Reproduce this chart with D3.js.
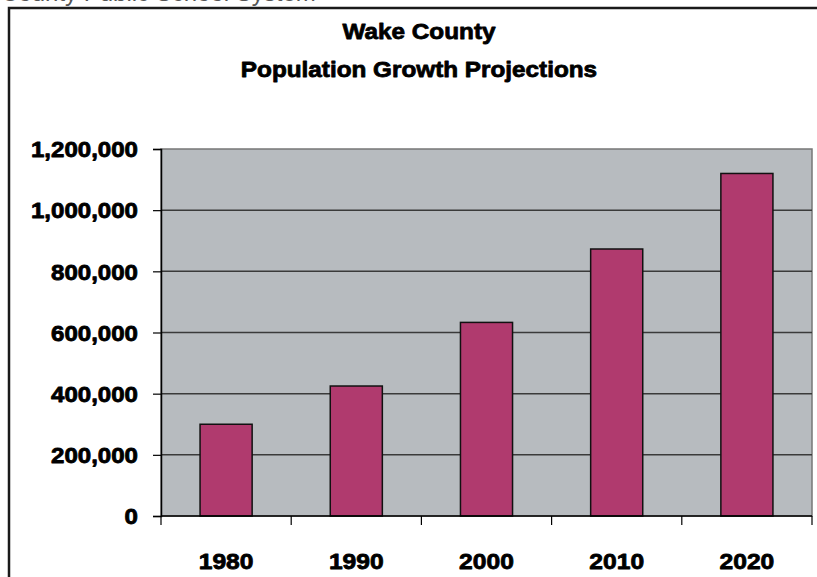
<!DOCTYPE html>
<html>
<head>
<meta charset="utf-8">
<script src="https://cdn.jsdelivr.net/npm/d3@7"></script>
<style>
  html, body { margin: 0; padding: 0; background: #fff; }
  svg { display: block; }
  text { font-family: "Liberation Sans", Arial, sans-serif; }
</style>
</head>
<body>
<svg id="chart" width="817" height="577"></svg>
<script>
// Wake County population: census counts and projections
const years = ["1980", "1990", "2000", "2010", "2020"];
const population = [300000, 425000, 633000, 873000, 1120000];
const yTicks = [0, 200000, 400000, 600000, 800000, 1000000, 1200000];
const titleLines = ["Wake County", "Population Growth Projections"];
const headerText = "County Public School System";

const svg = d3.select("#chart");
const W = 817, H = 577;

const plot = { left: 161, right: 812, top: 149, bottom: 516 };

// Header text running off the top edge
svg.append("text")
  .attr("x", 1).attr("y", 1)
  .attr("font-size", 24)
  .attr("fill", "#555")
  .text(headerText);

// Outer frame, extending beyond the right and bottom edges
svg.append("rect")
  .attr("x", 9).attr("y", 8)
  .attr("width", W + 20).attr("height", H + 20)
  .attr("fill", "#fff")
  .attr("stroke", "#1a1a1a")
  .attr("stroke-width", 2.5);

const x = d3.scaleBand()
  .domain(years)
  .range([plot.left, plot.right])
  .paddingInner(0.6)
  .paddingOuter(0.3);

const y = d3.scaleLinear()
  .domain([0, 1200000])
  .range([plot.bottom, plot.top]);

// Plot area background
svg.append("rect")
  .attr("x", plot.left).attr("y", plot.top)
  .attr("width", plot.right - plot.left)
  .attr("height", plot.bottom - plot.top)
  .attr("fill", "#b7bbbf")
  .attr("stroke", "#777")
  .attr("stroke-width", 1.5);

// Horizontal gridlines
svg.append("g")
  .selectAll("line")
  .data(yTicks.filter(d => d > 0 && d < 1200000))
  .join("line")
  .attr("x1", plot.left).attr("x2", plot.right)
  .attr("y1", d => y(d)).attr("y2", d => y(d))
  .attr("stroke", "#3a3a3a")
  .attr("stroke-width", 1.5);

// Bars
svg.append("g")
  .selectAll("rect")
  .data(years.map((yr, i) => ({ yr, v: population[i] })))
  .join("rect")
  .attr("x", d => x(d.yr))
  .attr("width", x.bandwidth())
  .attr("y", d => y(d.v))
  .attr("height", d => y(0) - y(d.v))
  .attr("fill", "#b03a6e")
  .attr("stroke", "#111")
  .attr("stroke-width", 1.5);

// Heavy label style shared by axes and title
function heavy(sel, size) {
  sel.attr("font-size", size)
    .attr("font-weight", "bold")
    .attr("fill", "#000")
    .attr("stroke", "#000")
    .attr("stroke-width", 0.8)
    .attr("stroke-linejoin", "round");
}

// Y axis
const fmt = d3.format(",");
const yAxis = svg.append("g")
  .attr("transform", `translate(${plot.left},0)`)
  .call(d3.axisLeft(y).tickValues(yTicks).tickSize(8).tickPadding(0).tickFormat(fmt));
yAxis.select(".domain").attr("stroke", "#000").attr("stroke-width", 1.5);
yAxis.selectAll(".tick line").attr("stroke", "#000").attr("stroke-width", 1.2);
yAxis.selectAll(".tick text").remove();
yAxis.selectAll(".tick").append("text")
  .attr("transform", "translate(-23,0) scale(1.12,1)")
  .attr("text-anchor", "end")
  .attr("dy", "0.36em")
  .call(heavy, 21.5)
  .text(d => fmt(d));

// X axis: ticks at category boundaries
const xAxis = svg.append("g")
  .attr("transform", `translate(0,${plot.bottom})`);
xAxis.append("line")
  .attr("x1", plot.left).attr("x2", plot.right)
  .attr("stroke", "#000").attr("stroke-width", 1.5);
const boundaries = d3.range(years.length + 1).map(i => plot.left + i * (plot.right - plot.left) / years.length);
xAxis.selectAll("line.tk")
  .data(boundaries)
  .join("line")
  .attr("class", "tk")
  .attr("x1", d => d).attr("x2", d => d)
  .attr("y1", 0).attr("y2", 9)
  .attr("stroke", "#000").attr("stroke-width", 1.2);
xAxis.selectAll("text")
  .data(years)
  .join("text")
  .attr("transform", d => `translate(${x(d) + x.bandwidth() / 2},53) scale(1.12,1)`)
  .attr("text-anchor", "middle")
  .call(heavy, 22)
  .text(d => d);

// Title
svg.append("g").selectAll("text")
  .data(titleLines)
  .join("text")
  .attr("transform", (d, i) => `translate(419,${38.5 + i * 38.5}) scale(1.08,1)`)
  .attr("text-anchor", "middle")
  .call(heavy, 22.5)
  .text(d => d);
</script>
</body>
</html>
